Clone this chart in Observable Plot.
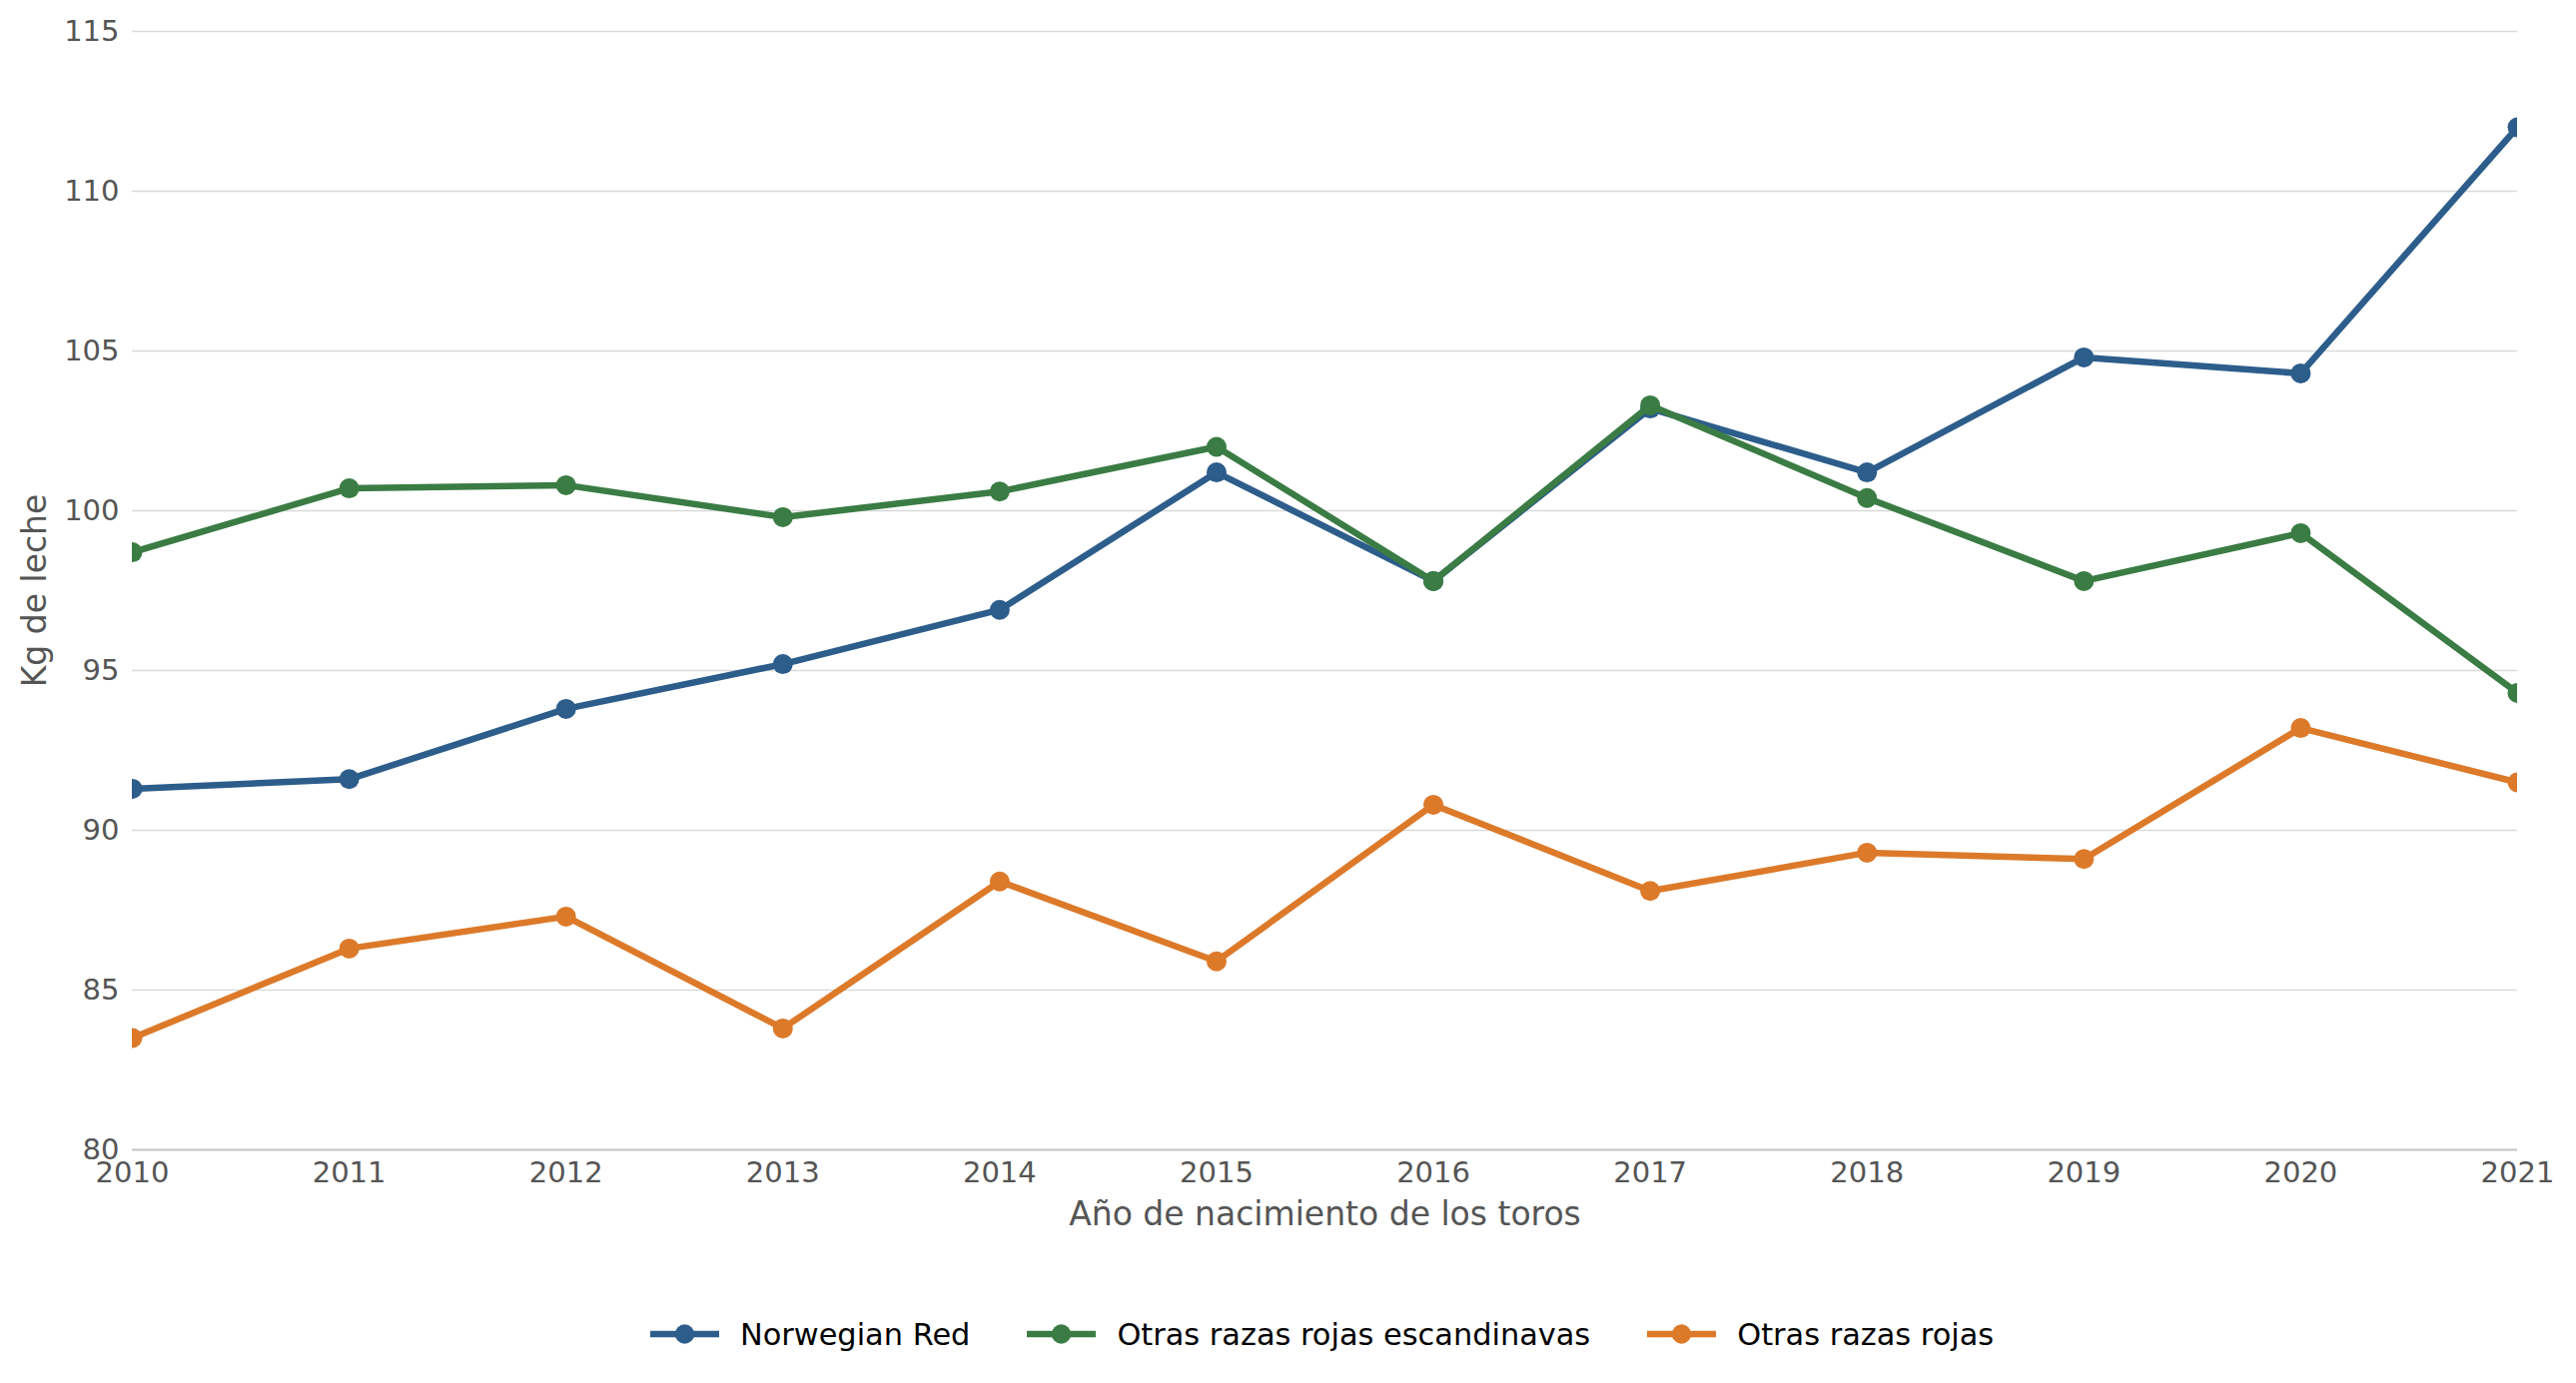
<!DOCTYPE html>
<html>
<head>
<meta charset="utf-8">
<script src="https://cdn.jsdelivr.net/npm/d3@7"></script>
<script src="https://cdn.jsdelivr.net/npm/@observablehq/plot@0.6"></script>
<style>
  html, body { margin: 0; padding: 0; background: #fff; overflow: hidden; }
  body { width: 2579px; height: 1385px; position: relative; font-family: "DejaVu Sans", sans-serif; }
  #chart svg { display: block; }
  #legend { position: absolute; left: 651px; top: 1320px; display: flex; align-items: center; gap: 57px; height: 32px; }
  .item { display: flex; align-items: center; gap: 21px; font-size: 30.4px; color: #000; white-space: nowrap; }
  .item svg { display: block; }
</style>
</head>
<body>
<div id="chart"></div>
<div id="legend"></div>
<script>
const years = [2010, 2011, 2012, 2013, 2014, 2015, 2016, 2017, 2018, 2019, 2020, 2021];
const norwegianRed = [91.3, 91.6, 93.8, 95.2, 96.9, 101.2, 97.8, 103.2, 101.2, 104.8, 104.3, 112.0];
const otrasEscandinavas = [98.7, 100.7, 100.8, 99.8, 100.6, 102.0, 97.8, 103.3, 100.4, 97.8, 99.3, 94.3];
const otrasRojas = [83.5, 86.3, 87.3, 83.8, 88.4, 85.9, 90.8, 88.1, 89.3, 89.1, 93.2, 91.5];
const seriesNames = ["Norwegian Red", "Otras razas rojas escandinavas", "Otras razas rojas"];
const yTicks = [80, 85, 90, 95, 100, 105, 110, 115];
const xLabel = "Año de nacimiento de los toros";
const yLabel = "Kg de leche";

const colors = ["#2d5d8b", "#3a7c44", "#dc7a2a"];
const seriesValues = [norwegianRed, otrasEscandinavas, otrasRojas];

const rows = seriesNames.flatMap((name, i) =>
  years.map((year, j) => ({series: name, year, value: seriesValues[i][j]}))
);

const seriesMarks = seriesNames.flatMap(name => {
  const d = rows.filter(r => r.series === name);
  return [
    Plot.line(d, {x: "year", y: "value", stroke: "series", strokeWidth: 6.5, clip: true}),
    Plot.dot(d, {x: "year", y: "value", fill: "series", r: 10, stroke: "none", clip: true})
  ];
});

const chart = Plot.plot({
  width: 2579,
  height: 1265,
  marginLeft: 132,
  marginRight: 59,
  marginTop: 31,
  marginBottom: 114,
  style: {fontFamily: "DejaVu Sans", background: "#fff", overflow: "visible"},
  x: {domain: [2010, 2021]},
  y: {domain: [80, 115]},
  color: {domain: seriesNames, range: colors},
  marks: [
    Plot.ruleY(yTicks.filter(t => t !== 80), {stroke: "#d9d9d9", strokeWidth: 1.6}),
    Plot.ruleY([80], {stroke: "#c4c4c4", strokeWidth: 1.8}),
    Plot.axisX({ticks: years, tickFormat: d => String(d), tickSize: 0, tickPadding: 12, fontSize: 29, fill: "#555", label: null}),
    Plot.axisY({ticks: yTicks, tickSize: 0, tickPadding: 13, fontSize: 29, fill: "#555", label: null}),
    ...seriesMarks,
    Plot.text([xLabel], {frameAnchor: "bottom", text: d => d, textAnchor: "middle", lineAnchor: "middle", dy: 65, fontSize: 33, fill: "#555"}),
    Plot.text([yLabel], {frameAnchor: "left", text: d => d, textAnchor: "middle", lineAnchor: "middle", rotate: -90, dx: -97, fontSize: 33, fill: "#555"})
  ]
});
document.getElementById("chart").appendChild(chart);

const legend = document.getElementById("legend");
seriesNames.forEach((name, i) => {
  const item = document.createElement("div");
  item.className = "item";
  item.innerHTML = `<svg width="69" height="22" viewBox="0 0 69 22"><line x1="0" y1="11" x2="69" y2="11" stroke="${colors[i]}" stroke-width="6.5"/><circle cx="34.5" cy="11" r="9.7" fill="${colors[i]}"/></svg><span>${name}</span>`;
  legend.appendChild(item);
});
</script>
</body>
</html>
